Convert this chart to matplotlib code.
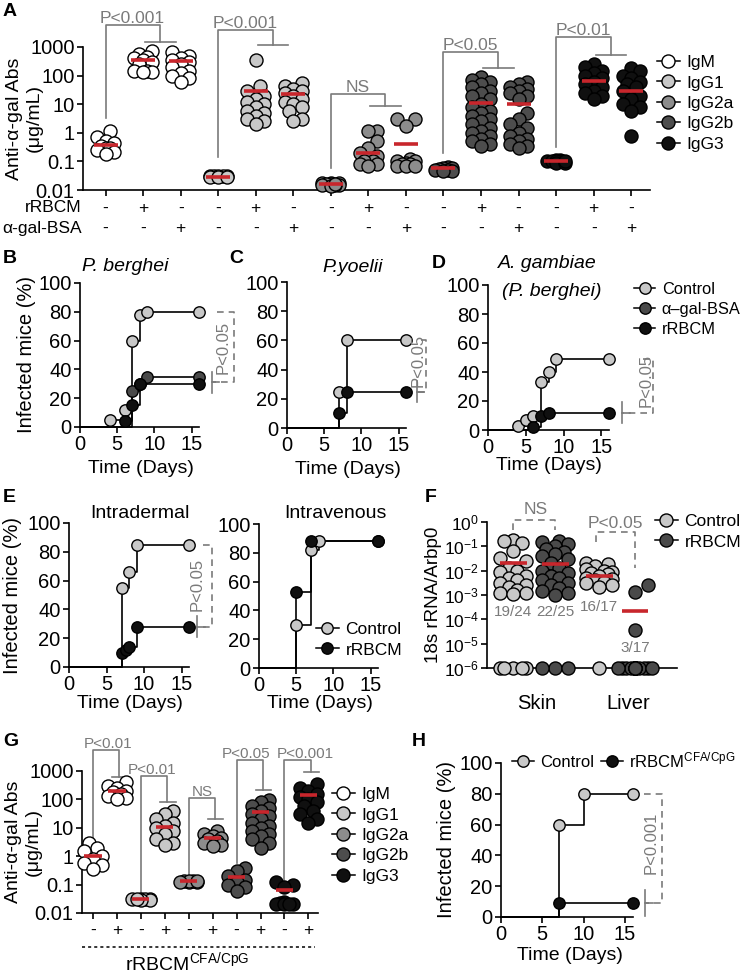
import numpy as np
import matplotlib
matplotlib.use("Agg")
import matplotlib.pyplot as plt
import matplotlib.transforms as mtransforms
from matplotlib.lines import Line2D
from matplotlib.ticker import NullLocator

plt.rcParams["font.family"] = ["Liberation Sans", "DejaVu Sans"]
plt.rcParams["mathtext.fontset"] = "custom"
plt.rcParams["mathtext.rm"] = "Liberation Sans"
plt.rcParams["mathtext.it"] = "Liberation Sans:italic"
plt.rcParams["font.size"] = 14
plt.rcParams["xtick.labelsize"] = 14.5
plt.rcParams["ytick.labelsize"] = 14.5
plt.rcParams["axes.linewidth"] = 1.2
plt.rcParams["xtick.major.width"] = 1.2
plt.rcParams["ytick.major.width"] = 1.2
plt.rcParams["xtick.major.size"] = 4
plt.rcParams["ytick.major.size"] = 4
plt.rcParams["xtick.major.pad"] = 2
plt.rcParams["ytick.major.pad"] = 2

# ============================================================
# Data
# ============================================================

isotypes = ["IgM", "IgG1", "IgG2a", "IgG2b", "IgG3"]
iso_colors = ["#ffffff", "#c8c8c8", "#8c8c8c", "#4d4d4d", "#101010"]

# Panel A: anti-alpha-gal Abs (ug/mL); per isotype: naive, rRBCM, alpha-gal-BSA
a_igm = [[1.2, 0.7, 0.5, 0.45, 0.35, 0.3, 0.3, 0.25, 0.22, 0.18],
         [700, 550, 450, 400, 350, 300, 250, 150, 140, 130, 130],
         [650, 500, 400, 350, 300, 250, 200, 150, 120, 100, 80, 60]]
a_igg1 = [[0.032, 0.031, 0.03, 0.03, 0.03, 0.029, 0.028, 0.028],
          [340, 45, 30, 20, 15, 12, 10, 8, 6, 5, 4, 3, 2.5, 2],
          [55, 45, 35, 30, 25, 20, 15, 12, 10, 8, 6, 3, 2.5]]
a_igg2a = [[0.018, 0.017, 0.017, 0.016, 0.016, 0.015, 0.015, 0.015, 0.014, 0.016],
           [1.2, 1.2, 0.5, 0.3, 0.2, 0.15, 0.12, 0.1, 0.1, 0.08, 0.08, 0.07],
           [3, 3, 1.7, 0.12, 0.1, 0.1, 0.09, 0.08, 0.08, 0.07, 0.07, 0.07]]
a_igg2b = [[0.065, 0.06, 0.058, 0.055, 0.05, 0.05, 0.048, 0.045],
           [90, 70, 60, 50, 40, 30, 25, 20, 15, 10, 8, 6, 5, 4, 3, 2.5, 2, 1.5,
            1.2, 1, 0.8, 0.6, 0.5, 0.4, 0.35],
           [60, 50, 40, 35, 30, 25, 20, 15, 5, 3, 2, 1.5, 1, 0.8, 0.6, 0.5, 0.4,
            0.35, 0.3]]
a_igg3 = [[0.11, 0.11, 0.1, 0.1, 0.1, 0.1, 0.1, 0.09, 0.09, 0.1],
          [250, 200, 150, 120, 100, 80, 60, 50, 40, 30, 25, 20, 15],
          [180, 150, 100, 80, 60, 50, 40, 30, 20, 15, 10, 8, 6, 0.8]]
a_means = [0.38, 360, 320, 0.029, 28, 22, 0.016, 0.2, 0.41, 0.058, 11, 10,
           0.1, 67, 30]
a_pvals = ["P<0.001", "P<0.001", "NS", "P<0.05", "P<0.01"]

# Panels B-E, H: % infected mice over time (days)
b_ctrl_days, b_ctrl_pct = [4, 6, 7, 8, 9, 16], [5, 12, 60, 78, 80, 80]
b_bsa_days, b_bsa_pct = [7, 8, 9, 16], [25, 30, 35, 35]
b_rbcm_days, b_rbcm_pct = [6, 7, 8, 16], [4, 15, 30, 30]

c_ctrl_days, c_ctrl_pct = [7, 8, 16], [25, 60, 60]
c_rbcm_days, c_rbcm_pct = [7, 8, 16], [10, 25, 25]

d_ctrl_days, d_ctrl_pct = [4, 5, 6, 7, 8, 9, 16], [3, 7, 10, 33, 40, 49, 49]
d_rbcm_days, d_rbcm_pct = [6, 7, 8, 16], [2, 10, 12, 12]

eid_ctrl_days, eid_ctrl_pct = [7, 8, 9, 16], [55, 66, 85, 85]
eid_rbcm_days, eid_rbcm_pct = [7, 7.6, 8, 9, 16], [10, 12, 14, 28, 28]
eiv_ctrl_days, eiv_ctrl_pct = [5, 7, 8, 16], [30, 82, 88, 88]
eiv_rbcm_days, eiv_rbcm_pct = [5, 7, 16], [53, 88, 88]

h_ctrl_days, h_ctrl_pct = [7, 10, 16], [60, 80, 80]
h_rbcm_days, h_rbcm_pct = [7, 16], [9, 9]

# Panel F: 18s rRNA/Arbp0 (detected values), undetected plotted at 1e-6
f_skin_ctrl = [0.18, 0.16, 0.14, 0.063, 0.032, 0.025, 0.0126, 0.01, 0.009,
               0.0063, 0.005, 0.004, 0.0032, 0.0025, 0.0022, 0.0016, 0.00126,
               0.00126, 0.0011]
f_skin_rbcm = [0.16, 0.15, 0.13, 0.1, 0.08, 0.06, 0.05, 0.04, 0.03, 0.02,
               0.013, 0.01, 0.008, 0.006, 0.005, 0.004, 0.003, 0.0025, 0.002,
               0.0015, 0.0012, 0.001]
f_liver_ctrl = [0.02, 0.018, 0.015, 0.012, 0.01, 0.009, 0.008, 0.007, 0.006,
                0.005, 0.0045, 0.004, 0.0035, 0.003, 0.0025, 0.0022]
f_liver_rbcm = [0.0025, 0.0013, 3.5e-5]
f_undetected = [5, 3, 1, 14]
f_means = [0.02, 0.018, 0.0063, 2.1e-4]
f_counts = ["19/24", "22/25", "16/17", "3/17"]

# Panel G: anti-alpha-gal Abs after rRBCM CFA/CpG; per isotype: -, +
g_igm = [[3, 2, 1.5, 1, 0.8, 0.6, 0.5, 0.35],
         [400, 300, 250, 200, 180, 150, 130, 110, 100]]
g_igg1 = [[0.032, 0.031, 0.03, 0.03, 0.029, 0.028, 0.03],
          [40, 30, 20, 15, 12, 10, 8, 6, 4, 3, 2.5]]
g_igg2a = [[0.13, 0.13, 0.12, 0.12, 0.13, 0.12, 0.13],
           [8, 6, 5, 4.5, 4, 3.5, 3, 2.5, 2.2]]
g_igg2b = [[0.4, 0.3, 0.2, 0.15, 0.12, 0.1, 0.08, 0.06],
           [95, 80, 60, 50, 40, 30, 25, 20, 15, 12, 10, 8, 6, 5, 4, 3, 2]]
g_igg3 = [[0.12, 0.1, 0.08, 0.025, 0.022, 0.02, 0.02, 0.02, 0.02],
          [350, 250, 200, 150, 120, 100, 80, 60, 40, 30, 20, 15]]
g_means = [1.0, 205, 0.03, 11, 0.13, 4.3, 0.19, 35, 0.063, 145]
g_pvals = ["P<0.01", "P<0.01", "NS", "P<0.05", "P<0.001"]

# ============================================================
# Figure + helpers
# ============================================================

W, H = 744, 973
fig = plt.figure(figsize=(W / 100, H / 100), dpi=100)
GRAY = "#7a7a7a"
RED = "#c8262c"
LIGHT, DARK, BLACK = "#c8c8c8", "#4a4a4a", "#101010"


def add_ax(l, t, r, b):
    ax = fig.add_axes([l / W, 1 - b / H, (r - l) / W, (b - t) / H])
    ax._px = (l, t, r, b)
    ax.spines["top"].set_visible(False)
    ax.spines["right"].set_visible(False)
    return ax


def fx(ax, px):
    l, t, r, b = ax._px
    return (px - l) / (r - l)


def fy(ax, py):
    l, t, r, b = ax._px
    return (b - py) / (b - t)


def swarm(ax, x0, values, diam, max_off):
    # simple beeswarm in pixel space
    pts = ax.transData.transform(np.column_stack([np.full(len(values), x0), values]))
    ys, xc = pts[:, 1], pts[0, 0]
    step = diam / 3.0
    cands = [0.0]
    k = 1
    while k * step <= max_off + 1e-9:
        cands += [k * step, -k * step]
        k += 1
    placed, offs = [], np.zeros(len(values))
    for i in np.argsort(ys):
        best, best_d = 0.0, -1
        for c in cands:
            d = min([np.hypot(c - px, ys[i] - py) for px, py in placed] or [np.inf])
            if d >= diam * 0.9:
                best = c
                break
            if d > best_d:
                best, best_d = c, d
        placed.append((best, ys[i]))
        offs[i] = best
    inv = ax.transData.inverted()
    return inv.transform(np.column_stack([xc + offs, ys]))[:, 0]


def dots(ax, x0, values, color, diam, max_off, ms):
    xs = swarm(ax, x0, values, diam, max_off)
    ax.plot(xs, values, "o", ms=ms, mfc=color, mec="k", mew=1.0, ls="none",
            zorder=3, clip_on=False)


def legend(ax, colors, labels, x_px, y_px, ms, ncol=1, spacing=0.3, fs=12.5,
           colsp=0.8):
    hs = [Line2D([], [], color="k", lw=1.1, marker="o", ms=ms, mfc=c, mec="k",
                 mew=1.0) for c in colors]
    ax.legend(hs, labels, loc="upper left", bbox_to_anchor=(x_px / W, 1 - y_px / H),
              bbox_transform=fig.transFigure, frameon=False, borderpad=0,
              borderaxespad=0, handlelength=1.3, handletextpad=0.4,
              labelspacing=spacing, ncol=ncol, columnspacing=colsp, fontsize=fs)


def letter(x, y, s):
    fig.text(x / W, 1 - y / H, s, fontsize=14, weight="bold", ha="left", va="center")


def ab_bracket(ax, g, low, top, bar, text, drop, bar0, bar1, tx, fs):
    tr = mtransforms.blended_transform_factory(ax.transData, ax.transAxes)
    kw = dict(color=GRAY, lw=1.2, transform=tr, clip_on=False)
    ax.plot([g, g, g + drop, g + drop], [fy(ax, low), fy(ax, top), fy(ax, top), fy(ax, bar)], **kw)
    ax.plot([g + bar0, g + bar1], [fy(ax, bar)] * 2, **kw)
    ax.text(g + tx, fy(ax, top + 1), text, transform=tr, ha="center", va="bottom",
            color=GRAY, fontsize=fs)


def km_axes(l, t, r, b):
    ax = add_ax(l, t, r, b)
    ax.set_xlim(0, 16)
    ax.set_ylim(0, 100)
    ax.set_xticks([0, 5, 10, 15])
    ax.set_yticks(range(0, 101, 20))
    return ax


def km_curve(ax, days, pct, color):
    ax.step([0] + days, [0] + pct, where="post", color="k", lw=1.2, zorder=2,
            clip_on=False)
    ax.plot(days, pct, "o", ms=8.2, mfc=color, mec="k", mew=1.0, ls="none",
            zorder=3, clip_on=False)


def km_bracket(ax, ytop, ybot, xt, xline, xtop, xtext, ytext, text, tbar=7.5):
    tr = mtransforms.blended_transform_factory(ax.transAxes, ax.transData)
    ax.plot([xtop, xline, xline, xt], [ytop, ytop, ybot, ybot], color=GRAY,
            lw=1.2, ls=(0, (4, 3)), transform=tr, clip_on=False)
    ax.plot([xt, xt], [ybot - tbar, ybot + tbar], color=GRAY, lw=1.2,
            transform=tr, clip_on=False)
    ax.plot([xt, xt + 0.06], [ybot, ybot], color=GRAY, lw=1.2,
            transform=tr, clip_on=False)
    ax.text(xtext, ytext, text, transform=tr, rotation=90, ha="center",
            va="center", color=GRAY, fontsize=12)


def labels(ax, xl=None, xl_pos=None, yl=None, yl_pos=None, xfs=14, yfs=14.5):
    if xl:
        ax.set_xlabel(xl, va="center", fontsize=xfs)
        ax.xaxis.set_label_coords(*xl_pos)
    if yl:
        ax.set_ylabel(yl, va="center", ha="center", fontsize=yfs)
        ax.yaxis.set_label_coords(*yl_pos)


# ============================================================
# A: antibody levels by isotype and immunisation
# ============================================================

axA = add_ax(83, 47, 650, 190)
axA.set_yscale("log")
axA.set_ylim(0.01, 1000)
axA.set_xlim(-0.6, 14.5)
axA.set_yticks([0.01, 0.1, 1, 10, 100, 1000])
axA.set_yticklabels(["0.01", "0.1", "1", "10", "100", "1000"])
axA.yaxis.set_minor_locator(NullLocator())
axA.set_xticks(range(15))
axA.set_xticklabels([])

a_sets = [a_igm, a_igg1, a_igg2a, a_igg2b, a_igg3]
for i, groups in enumerate(a_sets):
    for j, vals in enumerate(groups):
        g = 3 * i + j
        dots(axA, g, vals, iso_colors[i], 13, 12, 9.4)
        axA.hlines(a_means[g], g - 0.32, g + 0.32, color=RED, lw=2.6, zorder=4)

# significance brackets (x group, bottom px, top px, bar px)
a_br = [(0, 118, 25, 42), (3, 157, 30, 45), (6, 168, 94, 106), (9, 153, 52, 68),
        (12, 147, 37, 55)]
for (g, low, top, bar), p in zip(a_br, a_pvals):
    ab_bracket(axA, g, low, top, bar, p, 1.45, 1.05, 1.87, 0.72, 12.5)

trA = mtransforms.blended_transform_factory(axA.transData, axA.transAxes)
for g in range(15):
    axA.text(g, fy(axA, 208), "+" if g % 3 == 1 else "-", transform=trA,
             ha="center", va="center", fontsize=12.5)
    axA.text(g, fy(axA, 228), "+" if g % 3 == 2 else "-", transform=trA,
             ha="center", va="center", fontsize=12.5)
axA.text(-0.002, fy(axA, 208), "rRBCM", transform=axA.transAxes, ha="right",
         va="center", fontsize=12.5)
axA.text(-0.002, fy(axA, 228), "\u03b1-gal-BSA", transform=axA.transAxes, ha="right",
         va="center", fontsize=12.5)
labels(axA, yl="Anti-\u03b1-gal Abs\n(\u03bcg/mL)", yl_pos=(fx(axA, 24), 0.5), yfs=14)
legend(axA, iso_colors, isotypes, 657, 55, 9.4)

# ============================================================
# B, C, D: infection curves
# ============================================================

axB = km_axes(80, 283, 199, 427)
km_curve(axB, b_ctrl_days, b_ctrl_pct, LIGHT)
km_curve(axB, b_bsa_days, b_bsa_pct, DARK)
km_curve(axB, b_rbcm_days, b_rbcm_pct, BLACK)
km_bracket(axB, 80, 31, 1.11, 1.29, 1.15, 1.2, 55, "P<0.05")
labels(axB, "Time (Days)", (fx(axB, 141), fy(axB, 469)), "Infected mice (%)",
       (fx(axB, 27), 0.5))
axB.text(fx(axB, 125), fy(axB, 267), "P. berghei", transform=axB.transAxes,
         ha="center", va="center", style="italic")

axC = km_axes(287, 282, 406, 428)
km_curve(axC, c_ctrl_days, c_ctrl_pct, LIGHT)
km_curve(axC, c_rbcm_days, c_rbcm_pct, BLACK)
km_bracket(axC, 60, 25, 1.09, 1.17, 1.13, 1.1, 46, "P<0.05")
labels(axC, "Time (Days)", (fx(axC, 348), fy(axC, 469)))
axC.text(fx(axC, 353), fy(axC, 267), "P.yoelii", transform=axC.transAxes,
         ha="center", va="center", style="italic")

axD = km_axes(488, 285, 609, 430)
km_curve(axD, d_ctrl_days, d_ctrl_pct, LIGHT)
km_curve(axD, d_rbcm_days, d_rbcm_pct, BLACK)
km_bracket(axD, 49, 12, 1.11, 1.36, 1.28, 1.31, 34, "P<0.05")
labels(axD, "Time (Days)", (fx(axD, 549), fy(axD, 465)))
axD.text(fx(axD, 547), fy(axD, 263), "A. gambiae", transform=axD.transAxes,
         ha="center", va="center", style="italic")
axD.text(fx(axD, 552), fy(axD, 292), "(P. berghei)", transform=axD.transAxes,
         ha="center", va="center", style="italic")
legend(axD, [LIGHT, DARK, BLACK], ["Control", "\u03b1\u2013gal-BSA", "rRBCM"],
       634, 282, 8.2, fs=11.8)

# ============================================================
# E: intradermal vs intravenous
# ============================================================

axE1 = km_axes(69, 523, 189, 667)
km_curve(axE1, eid_ctrl_days, eid_ctrl_pct, LIGHT)
km_curve(axE1, eid_rbcm_days, eid_rbcm_pct, BLACK)
km_bracket(axE1, 85, 28, 1.07, 1.19, 1.12, 1.07, 57, "P<0.05")
labels(axE1, "Time (Days)", (fx(axE1, 130), fy(axE1, 703)), "Infected mice (%)",
       (fx(axE1, 13), 0.5))
axE1.text(fx(axE1, 140), fy(axE1, 513), "Intradermal", transform=axE1.transAxes,
          ha="center", va="center")

axE2 = km_axes(259, 524, 378, 668)
km_curve(axE2, eiv_ctrl_days, eiv_ctrl_pct, LIGHT)
km_curve(axE2, eiv_rbcm_days, eiv_rbcm_pct, BLACK)
labels(axE2, "Time (Days)", (fx(axE2, 320), fy(axE2, 703)))
axE2.text(fx(axE2, 335), fy(axE2, 513), "Intravenous", transform=axE2.transAxes,
          ha="center", va="center")
legend(axE2, [LIGHT, BLACK], ["Control", "rRBCM"], 316, 622, 8.2)

# ============================================================
# F: parasite load in skin and liver
# ============================================================

axF = add_ax(487, 522, 677, 668)
axF.set_yscale("log")
axF.set_ylim(1e-6, 1)
axF.set_xlim(-0.62, 3.9)
f_exp = [0, -1, -2, -3, -4, -5, -6]
axF.set_yticks([10.0 ** e for e in f_exp])
axF.set_yticklabels([r"$\mathregular{10^{%d}}$" % e for e in f_exp])
axF.yaxis.set_minor_locator(NullLocator())
axF.tick_params(axis="y", labelsize=12.5)
axF.set_xticks([0.57, 2.75])
axF.set_xticklabels(["Skin", "Liver"])
axF.tick_params(axis="x", length=0, pad=19)
f_pos = [0, 1, 2.05, 2.9]
f_cols = [LIGHT, DARK, LIGHT, DARK]
f_sets = [f_skin_ctrl, f_skin_rbcm, f_liver_ctrl, f_liver_rbcm]
for k in range(4):
    dots(axF, f_pos[k], f_sets[k], f_cols[k], 13, 15, 9.4)
    dots(axF, f_pos[k], [1e-6] * f_undetected[k], f_cols[k], 13, 18, 9.4)
    axF.hlines(f_means[k], f_pos[k] - 0.32, f_pos[k] + 0.32, color=RED, lw=2.6,
               zorder=4)
trF = mtransforms.blended_transform_factory(axF.transData, axF.transAxes)
for k, ypx in zip(range(4), [612, 612, 607, 648]):
    axF.text(f_pos[k], fy(axF, ypx), f_counts[k], transform=trF, ha="center",
             va="center", color=GRAY, fontsize=11)
dkw = dict(color=GRAY, lw=1.2, ls=(0, (4, 3)), transform=trF, clip_on=False)
axF.plot([0, 0, 1, 1], [fy(axF, 530), fy(axF, 520), fy(axF, 520), fy(axF, 530)], **dkw)
axF.text(0.55, fy(axF, 510), "NS", transform=trF, ha="center", va="center",
         color=GRAY, fontsize=12.5)
axF.plot([1.98, 1.98, 2.9, 2.9], [fy(axF, 542), fy(axF, 532), fy(axF, 532),
                                  fy(axF, 568)], **dkw)
axF.text(2.43, fy(axF, 523), "P<0.05", transform=trF, ha="center", va="center",
         color=GRAY, fontsize=12.5)
labels(axF, yl="18s rRNA/Arbp0", yl_pos=(fx(axF, 434), 0.5), yfs=13.5)
legend(axF, [LIGHT, DARK], ["Control", "rRBCM"], 655, 514, 9.4)

# ============================================================
# G: antibody levels after rRBCM CFA/CpG
# ============================================================

axG = add_ax(82, 771, 318, 913)
axG.set_yscale("log")
axG.set_ylim(0.01, 1000)
axG.set_xlim(-0.46, 9.4)
axG.set_yticks([0.01, 0.1, 1, 10, 100, 1000])
axG.set_yticklabels(["0.01", "0.1", "1", "10", "100", "1000"])
axG.yaxis.set_minor_locator(NullLocator())
axG.set_xticks(range(10))
axG.set_xticklabels([])
g_sets = [g_igm, g_igg1, g_igg2a, g_igg2b, g_igg3]
for i, groups in enumerate(g_sets):
    for j, vals in enumerate(groups):
        g = 2 * i + j
        dots(axG, g, vals, iso_colors[i], 13, 11, 9.4)
        axG.hlines(g_means[g], g - 0.36, g + 0.36, color=RED, lw=2.6, zorder=4)
g_br = [(0, 840, 750, 777, 0.63), (2, 893, 776, 802, 0.47), (4, 875, 798, 819, 0.56),
        (6, 863, 760, 790, 0.4), (8, 880, 760, 772, 0.87)]
for (g, low, top, bar, tx), p in zip(g_br, g_pvals):
    ab_bracket(axG, g, low, top, bar, p, 1.1, 0.8, 1.45, tx, 11)
trG = mtransforms.blended_transform_factory(axG.transData, axG.transAxes)
for g in range(10):
    axG.text(g, fy(axG, 930), "+" if g % 2 else "-", transform=trG, ha="center",
             va="center", fontsize=12.5)
trGf = mtransforms.blended_transform_factory(fig.transFigure, axG.transAxes)
axG.plot([82 / W, 315 / W], [fy(axG, 947)] * 2, transform=trGf, color="k", lw=1.1,
         ls=(0, (2, 2)), clip_on=False)
axG.text(fx(axG, 187), fy(axG, 962), r"rRBCM$^{\mathregular{CFA/CpG}}$",
         transform=axG.transAxes, ha="center", va="center", fontsize=14)
labels(axG, yl="Anti-\u03b1-gal Abs\n(\u03bcg/mL)", yl_pos=(fx(axG, 23), 0.5), yfs=14)
legend(axG, iso_colors, isotypes, 332, 787, 9.4)

# ============================================================
# H: infection after rRBCM CFA/CpG
# ============================================================

axH = km_axes(501, 763, 633, 917)
km_curve(axH, h_ctrl_days, h_ctrl_pct, LIGHT)
km_curve(axH, h_rbcm_days, h_rbcm_pct, BLACK)
km_bracket(axH, 80, 9, 1.09, 1.22, 1.08, 1.14, 48, "P<0.001", tbar=8.5)
labels(axH, "Time (Days)", (fx(axH, 570), fy(axH, 955)), "Infected mice (%)",
       (fx(axH, 447), 0.5))
legend(axH, [LIGHT, BLACK], ["Control", r"rRBCM$^{\mathregular{CFA/CpG}}$"],
       512, 750, 8.2, ncol=2, fs=12, colsp=0.4)

for s, x, y in [("A", 3, 12), ("B", 3, 258), ("C", 229, 258), ("D", 432, 263),
                ("E", 3, 497), ("F", 425, 497), ("G", 3, 742), ("H", 412, 742)]:
    letter(x, y, s)

fig.savefig("out.png", dpi=100)
